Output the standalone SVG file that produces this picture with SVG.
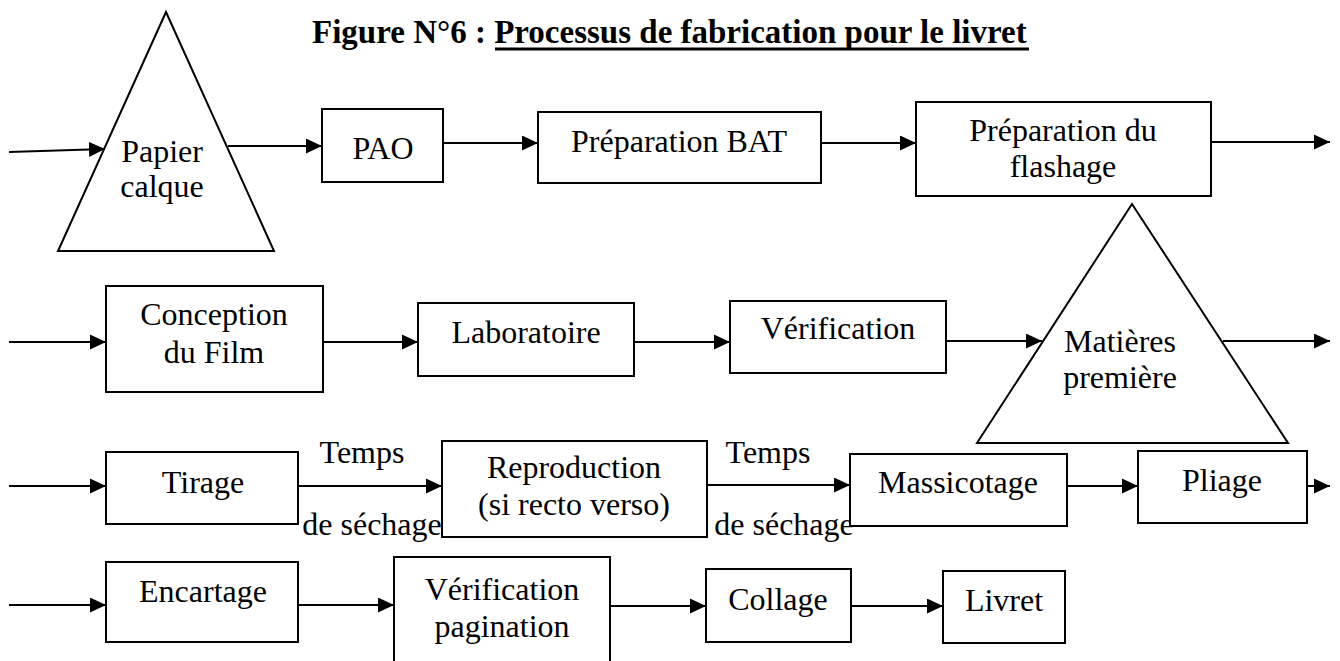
<svg xmlns="http://www.w3.org/2000/svg" width="1340" height="661" viewBox="0 0 1340 661">
  <defs>
    <marker id="arrow" markerUnits="userSpaceOnUse" markerWidth="16" markerHeight="15" refX="16" refY="7.5" orient="auto">
      <path d="M0,0 L16,7.5 L0,15 Z" fill="#000"/>
    </marker>
    <style>
      .box { fill: #fff; stroke: #000; stroke-width: 2; }
      .tri { fill: #fff; stroke: #000; stroke-width: 2; stroke-linejoin: miter; }
      .lbl { font-family: "Liberation Serif", "Times New Roman", serif; font-size: 32px; fill: #000; text-anchor: middle; }
      .title { font-family: "Liberation Serif", "Times New Roman", serif; font-size: 33px; font-weight: bold; fill: #000; }
      .edge { fill: none; stroke: #000; stroke-width: 2; marker-end: url(#arrow); }
    </style>
  </defs>

  <rect width="1340" height="661" fill="#fff"/>

  <!-- heading -->
  <g id="title">
    <text class="title" x="312" y="43">Figure N°6 : Processus de fabrication pour le livret</text>
    <line x1="495" y1="49" x2="1029" y2="49" stroke="#000" stroke-width="3"/>
  </g>

  <!-- connectors -->
  <g id="connectors">
    <!-- row 1 -->
    <line class="edge" x1="9" y1="152" x2="105" y2="149"/>
    <line class="edge" x1="228" y1="146" x2="322" y2="146"/>
    <line class="edge" x1="443" y1="143" x2="538" y2="143"/>
    <line class="edge" x1="821" y1="143" x2="916" y2="143"/>
    <line class="edge" x1="1211" y1="142" x2="1330" y2="142"/>
    <!-- row 2 -->
    <line class="edge" x1="9" y1="342" x2="106" y2="342"/>
    <line class="edge" x1="323" y1="342" x2="418" y2="342"/>
    <line class="edge" x1="634" y1="342" x2="730" y2="342"/>
    <line class="edge" x1="946" y1="341" x2="1042" y2="341"/>
    <line class="edge" x1="1223" y1="341" x2="1330" y2="341"/>
    <!-- row 3 -->
    <line class="edge" x1="9" y1="486" x2="106" y2="486"/>
    <line class="edge" x1="298" y1="486" x2="442" y2="486"/>
    <line class="edge" x1="707" y1="485" x2="850" y2="485"/>
    <line class="edge" x1="1067" y1="486" x2="1138" y2="486"/>
    <line class="edge" x1="1307" y1="486" x2="1330" y2="486"/>
    <!-- row 4 -->
    <line class="edge" x1="9" y1="605" x2="106" y2="605"/>
    <line class="edge" x1="298" y1="605" x2="394" y2="605"/>
    <line class="edge" x1="610" y1="606" x2="706" y2="606"/>
    <line class="edge" x1="851" y1="606" x2="943" y2="606"/>
  </g>

  <!-- connector labels -->
  <g id="drying-labels">
    <text class="lbl" x="362" y="463">Temps</text>
    <text class="lbl" x="372" y="535">de séchage</text>
    <text class="lbl" x="768" y="463">Temps</text>
    <text class="lbl" x="784" y="535">de séchage</text>
  </g>

  <!-- row 1 -->
  <g id="papier-calque">
    <polygon class="tri" points="166,12 58,251 274,251"/>
    <text class="lbl" x="162" y="162">Papier</text>
    <text class="lbl" x="162" y="197">calque</text>
  </g>
  <g id="pao">
    <rect class="box" x="322" y="109" width="121" height="73"/>
    <text class="lbl" x="383" y="159">PAO</text>
  </g>
  <g id="preparation-bat">
    <rect class="box" x="538" y="112" width="283" height="71"/>
    <text class="lbl" x="679" y="152">Préparation BAT</text>
  </g>
  <g id="preparation-flashage">
    <rect class="box" x="916" y="102" width="295" height="94"/>
    <text class="lbl" x="1063" y="141">Préparation du</text>
    <text class="lbl" x="1063" y="177">flashage</text>
  </g>

  <!-- row 2 -->
  <g id="conception-film">
    <rect class="box" x="106" y="286" width="217" height="106"/>
    <text class="lbl" x="214" y="325">Conception</text>
    <text class="lbl" x="214" y="363">du Film</text>
  </g>
  <g id="laboratoire">
    <rect class="box" x="418" y="303" width="216" height="73"/>
    <text class="lbl" x="526" y="343">Laboratoire</text>
  </g>
  <g id="verification">
    <rect class="box" x="730" y="301" width="216" height="72"/>
    <text class="lbl" x="838" y="339">Vérification</text>
  </g>
  <g id="matieres-premiere">
    <polygon class="tri" points="1132,204 977,443 1288,443"/>
    <text class="lbl" x="1120" y="352">Matières</text>
    <text class="lbl" x="1120" y="388">première</text>
  </g>

  <!-- row 3 -->
  <g id="tirage">
    <rect class="box" x="106" y="452" width="192" height="72"/>
    <text class="lbl" x="203" y="493">Tirage</text>
  </g>
  <g id="reproduction">
    <rect class="box" x="442" y="441" width="265" height="96"/>
    <text class="lbl" x="574" y="478">Reproduction</text>
    <text class="lbl" x="574" y="515">(si recto verso)</text>
  </g>
  <g id="massicotage">
    <rect class="box" x="850" y="454" width="217" height="72"/>
    <text class="lbl" x="958" y="493">Massicotage</text>
  </g>
  <g id="pliage">
    <rect class="box" x="1138" y="451" width="169" height="72"/>
    <text class="lbl" x="1222" y="491">Pliage</text>
  </g>

  <!-- row 4 -->
  <g id="encartage">
    <rect class="box" x="106" y="562" width="192" height="80"/>
    <text class="lbl" x="203" y="602">Encartage</text>
  </g>
  <g id="verification-pagination">
    <rect class="box" x="394" y="557" width="216" height="130"/>
    <text class="lbl" x="502" y="600">Vérification</text>
    <text class="lbl" x="502" y="637">pagination</text>
  </g>
  <g id="collage">
    <rect class="box" x="706" y="569" width="145" height="73"/>
    <text class="lbl" x="778" y="610">Collage</text>
  </g>
  <g id="livret">
    <rect class="box" x="943" y="571" width="122" height="72"/>
    <text class="lbl" x="1004" y="611">Livret</text>
  </g>
</svg>
